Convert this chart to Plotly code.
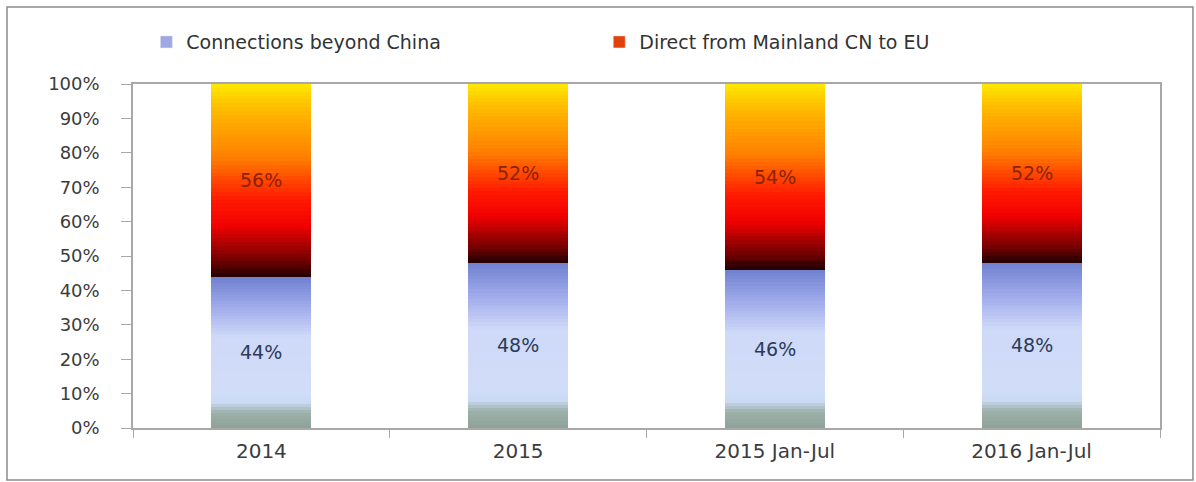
import plotly.graph_objects as go

# Share of traffic by routing, per period
categories = ["2014", "2015", "2015 Jan-Jul", "2016 Jan-Jul"]
connections_beyond = [44, 48, 46, 48]
direct_mainland = [56, 52, 54, 52]
series_names = ["Connections beyond China", "Direct from Mainland CN to EU"]
y_tick_vals = [0, 10, 20, 30, 40, 50, 60, 70, 80, 90, 100]

# Vertical colour ramps (position within segment, colour)
BLUE_RAMP = [(0.0, "#8fa298"), (0.10, "#9cb0aa"), (0.17, "#c9daf2"), (0.22, "#d0ddf8"),
             (0.60, "#cfd9f8"), (0.80, "#a0abea"), (1.0, "#6f80d0")]
FIRE_RAMP = [(0.0, "#200000"), (0.08, "#6e0000"), (0.26, "#f00000"), (0.40, "#ff1a00"),
             (0.62, "#ff7f00"), (0.86, "#ffb800"), (1.0, "#ffe800")]

SLICES = 50


def hex_rgb(h):
    h = h.lstrip("#")
    return tuple(int(h[i:i + 2], 16) for i in (0, 2, 4))


def ramp_colour(ramp, t):
    for (t0, c0), (t1, c1) in zip(ramp[:-1], ramp[1:]):
        if t <= t1:
            f = 0 if t1 == t0 else (t - t0) / (t1 - t0)
            a, b = hex_rgb(c0), hex_rgb(c1)
            r = [round(a[i] + (b[i] - a[i]) * f) for i in range(3)]
            return f"rgb({r[0]},{r[1]},{r[2]})"
    return ramp[-1][1]


fig = go.Figure()

# Each segment is stacked as thin slices so it shows a vertical colour ramp
for values, ramp in ((connections_beyond, BLUE_RAMP), (direct_mainland, FIRE_RAMP)):
    for k in range(SLICES):
        t = (k + 0.5) / SLICES
        fig.add_trace(go.Bar(
            x=categories,
            y=[v / SLICES for v in values],
            marker=dict(color=ramp_colour(ramp, t), line=dict(width=0)),
            showlegend=False,
            hoverinfo="skip",
        ))

# Legend entries
fig.add_trace(go.Bar(x=[None], y=[None], name=series_names[0],
                     marker=dict(color="#9ea8e2"), legend="legend"))
fig.add_trace(go.Bar(x=[None], y=[None], name=series_names[1],
                     marker=dict(color="#e2400c"), legend="legend2"))

# Value labels centred in each segment (category axis positions by index)
for i, (lo, hi) in enumerate(zip(connections_beyond, direct_mainland)):
    fig.add_annotation(x=i, y=lo / 2, text=f"{lo}%", showarrow=False,
                       font=dict(family="DejaVu Sans", size=19, color="#2c3a58"))
    fig.add_annotation(x=i, y=lo + hi / 2, text=f"{hi}%", showarrow=False,
                       font=dict(family="DejaVu Sans", size=19, color="#8c2208"))

axis_grey = "#a8a8a8"
fig.update_layout(
    width=1196, height=482,
    margin=dict(l=133, r=36, t=84, b=54, autoexpand=False),
    barmode="stack",
    bargap=0.61,
    paper_bgcolor="white",
    plot_bgcolor="white",
    font=dict(family="DejaVu Sans", color="#3c3c3c"),
    legend=dict(orientation="h", x=0.013, y=1.122, xanchor="left", yanchor="middle",
                font=dict(size=19, color="#333333"), bgcolor="rgba(0,0,0,0)"),
    legend2=dict(orientation="h", x=0.454, y=1.122, xanchor="left", yanchor="middle",
                 font=dict(size=19, color="#333333"), bgcolor="rgba(0,0,0,0)"),
    xaxis=dict(
        type="category", range=[-0.5, 3.5],
        showline=True, linecolor=axis_grey, linewidth=1.5, mirror=True,
        ticks="outside", tickson="boundaries", ticklen=8, tickcolor=axis_grey,
        tickfont=dict(size=20, color="#3c3c3c"), ticklabelstandoff=4,
        showgrid=False, zeroline=False,
    ),
    yaxis=dict(
        range=[0, 100], tickvals=y_tick_vals,
        ticktext=[f"{v}%" for v in y_tick_vals],
        showline=True, linecolor=axis_grey, linewidth=1.5, mirror=True,
        ticks="outside", ticklen=10, tickcolor=axis_grey,
        tickfont=dict(size=18, color="#3c3c3c"), ticklabelstandoff=18,
        showgrid=False, zeroline=False,
    ),
    shapes=[dict(type="rect", xref="paper", yref="paper",
                 x0=-0.1227, x1=1.0321, y0=-0.1512, y1=1.2238,
                 line=dict(color="#8c8c8c", width=1.5), layer="below")],
)

fig.write_html("out.html")
